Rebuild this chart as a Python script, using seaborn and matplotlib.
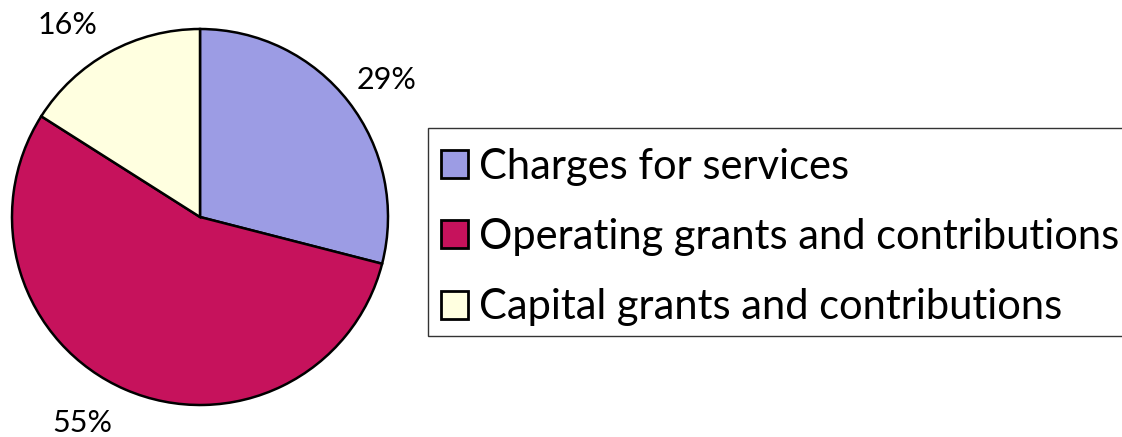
import matplotlib
matplotlib.use("Agg")
import matplotlib.pyplot as plt
from matplotlib.patches import Rectangle
import numpy as np
import seaborn as sns

# Revenue breakdown
categories = ["Charges for services",
              "Operating grants and contributions",
              "Capital grants and contributions"]
shares = [29, 55, 16]
colors = ["#9c9ce4", "#c6125c", "#ffffe0"]

sns.set_theme(style="white")
plt.rcParams["font.family"] = ["Lato", "DejaVu Sans"]
plt.rcParams["text.color"] = "black"

W, H = 1122, 437
fig = plt.figure(figsize=(W / 100, H / 100), dpi=100)
fig.patch.set_facecolor("white")

cx, cy, r = 200, 217, 188
ax = fig.add_axes([(cx - r) / W, (H - cy - r) / H, 2 * r / W, 2 * r / H])

wedges, texts, autotexts = ax.pie(
    shares,
    colors=colors,
    startangle=90,
    counterclock=False,
    autopct=lambda p: f"{p:.0f}%",
    pctdistance=1.24,
    wedgeprops=dict(edgecolor="black", linewidth=1.8),
    textprops=dict(fontsize=22, color="black"),
)
for w in wedges:
    w.set_clip_on(False)

# label angles (degrees) and distance relative to the radius
label_angles = [36.4, -119.7, 124.7]
label_dist = [1.23, 1.26, 1.24]
for t, a, d in zip(autotexts, label_angles, label_dist):
    t.set_position((d * np.cos(np.radians(a)), d * np.sin(np.radians(a))))
    t.set_clip_on(False)

ax.set_xlim(-1, 1)
ax.set_ylim(-1, 1)
ax.set_aspect("equal")
ax.axis("off")

# legend frame, running off the right edge of the figure
box_left, box_top, box_bottom = 428, 128, 336
fig.patches.append(Rectangle(
    (box_left / W, 1 - box_bottom / H), (W + 20 - box_left) / W,
    (box_bottom - box_top) / H, transform=fig.transFigure,
    facecolor="white", edgecolor="#333333", linewidth=1.0, zorder=0))

leg = fig.legend(
    wedges, categories,
    loc="upper left",
    bbox_to_anchor=(box_left / W, 1 - 135 / H),
    bbox_transform=fig.transFigure,
    borderaxespad=0,
    fontsize=30,
    frameon=False,
    handlelength=0.66,
    handleheight=0.66,
    handletextpad=0.26,
    borderpad=0.3,
    labelspacing=0.78,
)
for h in leg.legend_handles:
    h.set_edgecolor("black")
    h.set_linewidth(2.0)

fig.savefig("out.png", dpi=100, facecolor="white")
